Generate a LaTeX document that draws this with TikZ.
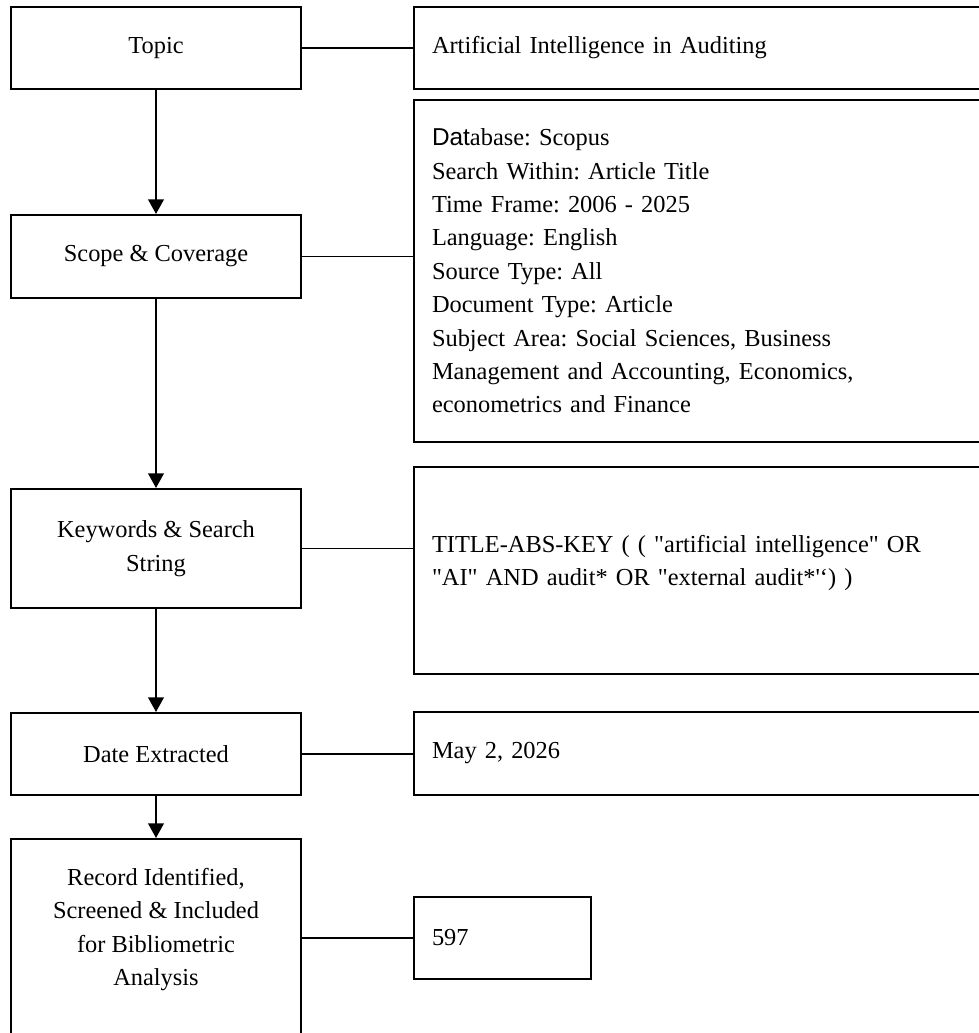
\documentclass[tikz,border=0pt]{standalone}
\usepackage{fontspec}
\setmainfont{Liberation Serif}
\setsansfont{Liberation Sans}
\usetikzlibrary{arrows.meta, positioning}
\frenchspacing

\begin{document}
\begin{tikzpicture}[
    x=0.5pt, y=-0.5pt,
    box/.style={rectangle, draw=black, line width=1pt, minimum width=145pt, align=center, font=\fontsize{12.2}{16.7}\selectfont},
    infobox/.style={rectangle, draw=black, line width=1pt, inner xsep=9pt, text width=275pt, align=left, font=\fontsize{12.2}{16.7}\selectfont},
    arrow/.style={-{Triangle[width=7.8pt, length=7.3pt]}, line width=1pt},
    link/.style={line width=0.75pt}
]
    \useasboundingbox (0,0) rectangle (979,1033);
    \clip (0,0) rectangle (979,1033);

    % Steps (left column)
    \node[box, minimum height=41pt] (topic) at (156, 48) {Topic};
    \node[box, minimum height=41.5pt] (scope) at (156, 256.5) {Scope \& Coverage};
    \node[box, minimum height=59.5pt] (keywords) at (156, 548.5) {Keywords \& Search\\String};
    \node[box, minimum height=41pt] (date) at (156, 754) {Date Extracted};
    \node[box, minimum height=105.5pt, text depth=17.8pt] (record) at (156, 944.5) {Record Identified,\\Screened \& Included\\for Bibliometric\\Analysis};

    % Details (right column)
    \node[infobox, minimum height=41pt] (topicinfo) at (707, 48) {Artificial Intelligence in Auditing};
    \node[infobox, minimum height=171pt] (scopeinfo) at (707, 271) {{\sffamily Dat}abase: Scopus\\
        Search Within: Article Title\\
        Time Frame: 2006 - 2025\\
        Language: English\\
        Source Type: All\\
        Document Type: Article\\
        Subject Area: Social Sciences, Business\\
        Management and Accounting, Economics,\\
        econometrics and Finance};
    \node[infobox, minimum height=103.5pt, text depth=27pt] (keywordsinfo) at (707, 570.5) {TITLE-ABS-KEY ( ( \textquotedbl artificial intelligence\textquotedbl{} OR\\
        \textquotedbl AI\textquotedbl{} AND audit* OR \textquotedbl external audit*\textquotesingle\textquoteleft) )};
    \node[infobox, minimum height=41.5pt] (dateinfo) at (707, 753.5) {May 2, 2026};
    \node[infobox, minimum height=41pt, text width=70.5pt] (recordinfo) at (502.5, 938) {597};

    % Arrows
    \draw[arrow] (topic) -- (scope);
    \draw[arrow] (scope) -- (keywords);
    \draw[arrow] (keywords) -- (date);
    \draw[arrow] (date) -- (record);

    % Links to details
    \draw[link] (topic.east) -- (topic.east -| topicinfo.west);
    \draw[link] (scope.east) -- (scope.east -| scopeinfo.west);
    \draw[link] (keywords.east) -- (keywords.east -| keywordsinfo.west);
    \draw[link] (date.east) -- (date.east -| dateinfo.west);
    \draw[link] (recordinfo.west -| record.east) -- (recordinfo.west);
\end{tikzpicture}
\end{document}
